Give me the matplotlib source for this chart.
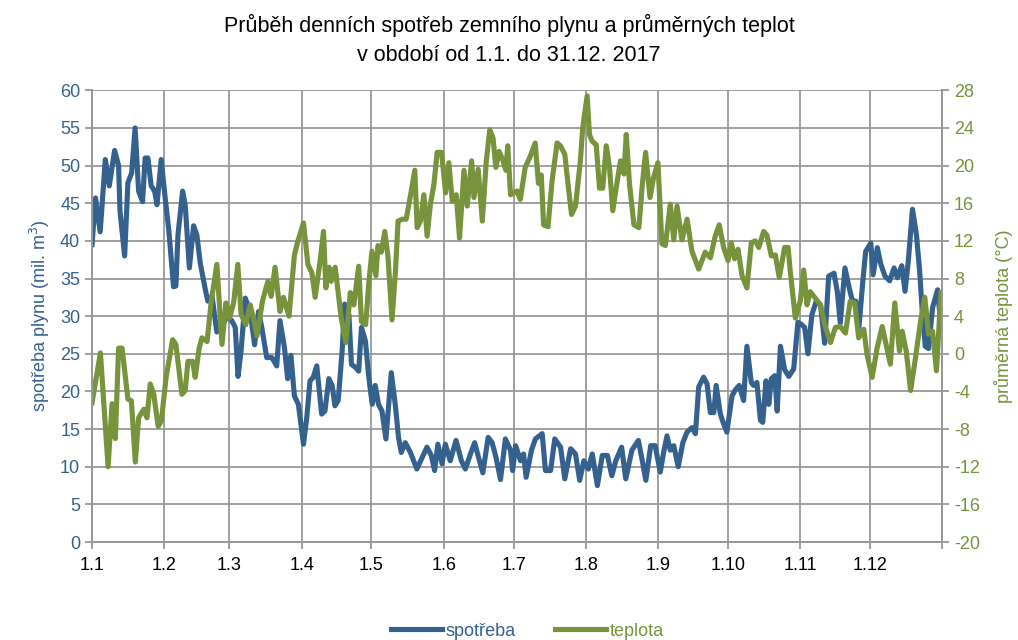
import matplotlib.pyplot as plt
import numpy as np

# den v roce (0 = 1.1.) a hodnoty
spotreba_den = [0, 1.5, 3.5, 5.7, 7.4, 9.7, 11.4, 12, 14, 15.4, 17, 18.5, 20, 21.7, 22.8, 24, 25.4, 26.9,
                27.9, 29.7, 31.4, 33, 35, 36, 36.9, 38.9, 40, 41.8, 43.6, 45, 46.5, 48.6, 49.7, 51.5, 53.6,
                56, 58, 60, 61.5, 62.7, 64, 65.8, 67.9, 69.8, 71.5, 72.9, 75, 77.2, 79.3, 80.7, 82.6, 84,
                85.4, 86.9, 88.6, 90.8, 92.2, 93.6, 95, 96.5, 98.6, 100, 101.7, 103.1, 104.3, 105.7, 107.4,
                108.5, 110.3, 111.4, 113.1, 114.5, 115.7, 117.4, 118.8, 120.3, 121.6, 123, 124.5, 126.2,
                128.5, 130.2, 131.6, 132.8, 134.5, 136.7, 139.5, 141.4, 143.8, 145.7, 147.1, 148.5, 150.3,
                151.7, 153.8, 156.3, 158.6, 160.3, 162.5, 164.3, 166, 167.8, 170.1, 171.8, 173.5, 175.4,
                177.5, 179.7, 180.6, 181.9, 184, 185.3, 186.4, 188.7, 190.4, 193.3, 194.7, 196.9, 198.7,
                201.2, 203, 205.5, 207.6, 209.4, 211.2, 213.1, 214.8, 217, 219.1, 221.3, 223.2, 224.9,
                227.4, 229.2, 231.8, 234.6, 236.4, 237.8, 239.9, 241.8, 244, 245.5, 246.9, 248.3, 249.8,
                251.7, 253.7, 255.5, 257.6, 259.1, 260.5, 262.6, 264.1, 265.5, 267, 268, 269.8, 271.2,
                272.6, 274.8, 276.2, 277.9, 279.8, 281.2, 283.1, 284.1, 285.5, 287, 288, 289.4, 290.6,
                291.7, 293.2, 294.2, 295.6, 297.4, 299.2, 301.3, 303.1, 304.6, 306, 307.4, 309.1, 311,
                312.8, 314.6, 316.3, 318.6, 320, 321.3, 323.3, 325.1, 326.5, 327.9, 329.3, 331, 332.2,
                334.4, 335.4, 337.2, 338.7, 340.5, 342.5, 344.4, 345.8, 347.7, 349.1, 350.5, 352.3, 354,
                355.4, 356.6, 357.8, 359.2, 360.9, 363.1, 364.5]
spotreba = [39.5, 45.7, 41.2, 50.8, 47.3, 52, 50, 44, 38, 47.7, 49, 55, 46.6, 45.2, 51, 51, 47.3, 46.6,
            44.8, 50.8, 45.7, 41.3, 33.9, 34, 40.8, 46.6, 44.8, 36.4, 42, 40.8, 37, 33.6, 32, 32.7, 27.9,
            28.8, 30, 29.4, 28.5, 22, 25.4, 32.4, 30.6, 26.2, 30.6, 28.5, 24.5, 24.5, 23.4, 29.4, 25.9, 21.7,
            24.8, 19.4, 18.3, 13, 16.5, 21.4, 21.9, 23.4, 17, 17.4, 21.7, 20.8, 18.1, 18.8, 25.4,
            31.6, 30.2, 23.6, 23.2, 22.7, 28.5, 26.7, 22, 18.3, 20.8, 18.3, 17.4, 13.7,
            22.5, 18.3, 13.9, 11.9, 13.2, 11.9, 9.7, 11, 12.6, 11.5, 9.5, 13, 10.4,
            13, 10.8, 13.5, 10.8, 9.7, 11.7, 13.2, 11.2, 9.2, 13.9, 13.2, 11.2, 8.3,
            13.7, 12.2, 9.5, 12.8, 10.8, 11.7, 8.6, 12.2, 13.7, 14.4, 9.5, 9.5, 13.7,
            12.6, 8.4, 12.4, 11.7, 8.2, 10.8, 9.7, 11.7, 7.5, 11.5, 11.5, 8.8, 10.8,
            12.6, 8.4, 12.2, 13.5, 10.6, 8.2, 12.8, 12.8, 9.3, 12, 14.1, 12.2, 12.8,
            10, 13.2, 14.6, 15.2, 14.4, 20.6, 21.9, 21, 17.2, 17.2, 20.8, 17, 15.7,
            14.6, 19.4, 20.2, 20.8, 18.8, 26, 21.2, 20.8, 21.2, 16.2, 15.9, 21.4, 18.3,
            21.7, 22.1, 17.4, 26, 22.9, 22, 23, 29.2, 28.9, 28.5, 25, 30.2, 32,
            31.5, 26.4, 35.3, 35.7, 33.3, 29.1, 36.4, 33.8, 32, 32, 28.5, 34.7, 38.6,
            39.7, 35.5, 39.1, 36.9, 35.3, 34.7, 36.4, 35.1, 36.7, 33.3, 37.3, 44.2, 40.8,
            35.9, 30.2, 26, 25.7, 31.1, 33.5, 28.7]

teplota_den = [0, 3.6, 5, 6.9, 8.6, 10, 11.4, 12.9, 15.4, 16.9, 18.6, 20, 22.2, 23.6, 25, 26.5, 28.4, 29.8,
               31.8, 34.6, 36, 38.6, 40, 41.2, 43.2, 44.3, 46, 47.2, 49.4, 51.2, 53.6, 55.8, 57.5, 59,
               60.8, 62.6, 64, 66, 67.9, 69.3, 70.8, 73.2, 75.5, 76.9, 78.6, 80.7, 82.2, 84.6, 86.9,
               88.3, 90.8, 92.7, 94.4, 95.8, 98, 99.4, 100.4, 101.8, 102.7, 104.4, 107, 109, 110.9,
               112.4, 114.5, 115.7, 117.5, 118.8, 120.2, 121.9, 122.8, 124.2, 125.7, 127.1, 128.8,
               130.3, 131.4, 133.2, 134.9, 136.8, 138.6, 139.6, 141, 142.5, 143.9, 145.3, 146.8, 148.2,
               150.1, 151.8, 153.2, 154.7, 156.4, 157.8, 159.7, 161.1, 163, 164, 165.8, 167.6, 169.3,
               170.8, 172.2, 173.4, 174.8, 176.5, 177.7, 178.5, 179.7, 182.5, 183.9, 186, 188.2, 190.3,
               191.7, 192.9, 193.9, 195.8, 197.5, 199.7, 201.1, 203, 204.4, 205.9, 207.6, 209.7, 210.7,
               212.6, 213.6, 214.7, 216.5, 217.9, 219.3, 220.8, 222.2, 223.6, 225.5, 226.9, 228.4,
               229.4, 230.8, 232.7, 234.8, 236.3, 237.7, 239.6, 241.1, 243, 244.7, 246.2, 248.3, 249.8,
               251.2, 253.3, 255.5, 257.6, 260.5, 263.3, 265.5, 267.6, 269.3, 271.2, 273.1, 274.5,
               275.9, 277.4, 279.1, 281.2, 283.1, 284.8, 286.3, 288.4, 289.8, 291.7, 293.4, 295.1,
               297.4, 298.9, 299.8, 302, 304.1, 305.6, 307, 308.4, 310.6, 312.8, 314.6, 317.1, 319.2,
               321.3, 323.5, 325.6, 327.5, 329.2, 331.4, 332.8, 335, 337.1, 339.3, 340.7, 342.8, 344.7,
               346.7, 347.9, 349.6, 351.5, 353.6, 355.8, 357.6, 359.2, 360.9, 362.6, 364.5]
teplota = [-5.2, 0.1, -5, -12, -5.3, -9, 0.6, 0.6, -4.8, -5, -11.5, -6.8, -5.9, -6.8, -3.2, -4.3, -7.7, -7.1,
           -2.5, 1.5, 1, -4.3, -3.9, -0.8, -0.8, -2.5, 0.6, 1.7, 1.3, 5.6, 9.5, 1, 5.4, 3.8,
           5.4, 9.5, 4.2, 3.1, 5.2, 3.8, 1.9, 5.6, 7.7, 6.1, 9.2, 4.5, 6, 4, 10.5,
           11.9, 13.9, 9.5, 8.6, 6, 10, 13, 7, 9.2, 7.7, 9.2, 3.8, 1.2, 6.5,
           5.2, 9.3, 3.4, 3.1, 7.4, 10.9, 8.3, 11.5, 10.8, 13, 10.3, 3.6,
           8.8, 14.1, 14.3, 14.3, 16.9, 19.5, 13.4, 14.1, 16.9, 12.5, 15.9, 18, 21.4,
           21.4, 17.1, 20.3, 16.2, 16.9, 12.3, 19.5, 15.7, 20.5, 16.6, 19.6, 14.1, 20.5,
           23.8, 22.9, 19.8, 21.5, 20.5, 19.5, 22.1, 16.9, 17.3, 16.4, 19.8, 21, 22.4,
           18.1, 19, 13.7, 13.5, 18.3, 22.4, 22.1, 21.2, 18, 14.8, 15.7, 20.5, 24,
           27.4, 23.3, 22.6, 22.2, 17.6, 17.6, 22.1, 19.8, 15.2, 18.3, 20.5, 19.1,
           23.3, 18, 13.7, 13.4, 18, 21.4, 16.6, 18.7, 20.3, 11.7, 11.5, 15.9, 12.1,
           15.7, 12.1, 14.3, 10.9, 9, 10.8, 10.2, 12.5, 13.7, 11.3, 9.9, 11.8,
           10.1, 11.1, 8.3, 7, 11.8, 12, 11.3, 13, 12.6, 10.4, 10.5, 8.1,
           11.3, 11.3, 8.8, 3.8, 5.6, 8.9, 5.2, 6.6, 5.9, 5.2, 3.1, 1.2, 2.8,
           2.9, 2.2, 5.6, 5.4, 1.7, 2.6, -0.1, -2.5, 0.6, 2.9, 1.3, -1.1, 5.4,
           0.3, 2.4, 0.3, -3.9, -0.4, 3.5, 6, 2.1, 2.4, -1.8, 6.5]

mesice_den = [0, 31, 59, 90, 120, 151, 181, 212, 243, 273, 304, 334]
mesice_popisky = ["1.1", "1.2", "1.3", "1.4", "1.5", "1.6", "1.7", "1.8", "1.9", "1.10", "1.11", "1.12"]

modra = "#35618f"
zelena = "#77933c"
seda = "#999999"

plt.rcParams['font.family'] = ['Liberation Sans', 'DejaVu Sans']
plt.rcParams['axes.unicode_minus'] = False

fig = plt.figure(figsize=(10.18, 6.4), dpi=100)
ax = fig.add_axes([0.0904, 0.153, 0.835, 0.706])
ax2 = ax.twinx()

ax.plot(spotreba_den, spotreba, color=modra, lw=3.7, solid_joinstyle='round', label='spotřeba')
ax2.plot(teplota_den, teplota, color=zelena, lw=3.7, solid_joinstyle='round', label='teplota')

ax.set_xlim(0, 365)
ax.set_ylim(0, 60)
ax2.set_ylim(-20, 28)
ax.set_yticks(np.arange(0, 61, 5))
ax2.set_yticks(np.arange(-20, 29, 4))
ax.set_xticks(mesice_den + [365])
ax.set_xticklabels(mesice_popisky + [""])

ax.grid(True, color=seda, lw=1.3)
ax.set_axisbelow(True)
for a in (ax, ax2):
    for s in a.spines.values():
        s.set_color(seda)
        s.set_linewidth(1.3)
    a.spines['top'].set_visible(False)
ax.tick_params(axis='x', colors=seda, labelcolor='black', labelsize=13, length=5, width=1.3, pad=6)
ax.tick_params(axis='y', colors=seda, labelcolor=modra, labelsize=13, length=5, width=1.3)
ax2.tick_params(axis='y', colors=seda, labelcolor=zelena, labelsize=13, length=5, width=1.3)

ax.set_ylabel("spotřeba plynu (mil. m$^3$)", color=modra, fontsize=13, labelpad=6)
ax2.set_ylabel("průměrná teplota (°C)", color=zelena, fontsize=13, labelpad=10, rotation=90)

fig.suptitle("Průběh denních spotřeb zemního plynu a průměrných teplot\nv období od 1.1. do 31.12. 2017",
             x=0.5, y=0.978, fontsize=15.5, linespacing=1.5)

h1, l1 = ax.get_legend_handles_labels()
h2, l2 = ax2.get_legend_handles_labels()
fig.legend(h1 + h2, l1 + l2, loc='lower center', bbox_to_anchor=(0.518, -0.025), ncol=2, frameon=False,
           fontsize=13, labelcolor='linecolor', handlelength=2.8, handletextpad=0.2, columnspacing=2.2)

fig.savefig("out.png", dpi=100)
